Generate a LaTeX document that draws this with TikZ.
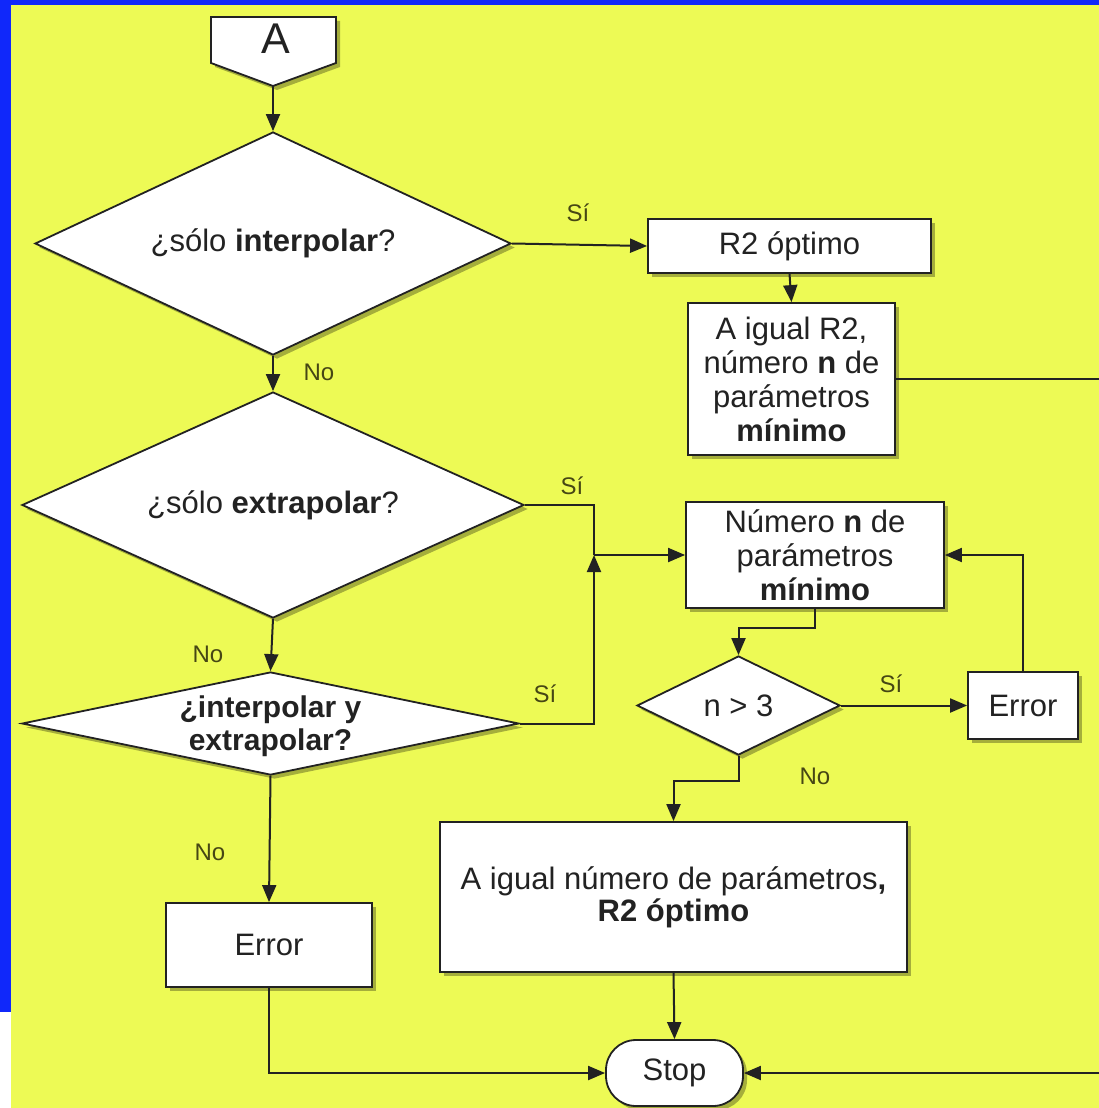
\documentclass[tikz,border=0pt]{standalone}
\usepackage{fontspec}
\setmainfont{Liberation Sans}
\usetikzlibrary{arrows.meta,shapes.geometric,shadows}
\definecolor{bgyellow}{RGB}{237,250,85}
\definecolor{bgblue}{RGB}{16,40,250}
\definecolor{ink}{RGB}{34,34,34}
\definecolor{lblc}{RGB}{70,70,20}
\begin{document}
\begin{tikzpicture}[x=1pt,y=-1pt,
  shade/.style={drop shadow={shadow xshift=4pt,shadow yshift=-4pt,opacity=0.3,fill=black}},
  box/.style={draw=ink,line width=1.8pt,fill=white,align=center,
    font=\fontsize{31}{34}\selectfont,text=ink,inner sep=0pt,shade},
  dia/.style={box,diamond},
  txt/.style={align=center,font=\fontsize{31}{34}\selectfont,text=ink,inner sep=0pt},
  lbl/.style={text=lblc,font=\fontsize{24}{28}\selectfont,inner sep=0pt},
  conn/.style={draw=ink,line width=2pt},
  arr/.style={conn,-{Triangle[length=17pt,width=14pt]}}]
\useasboundingbox (0,0) rectangle (1099,1108);
\fill[bgblue] (0,0) rectangle (1099,1108);
\fill[bgyellow] (11,5) rectangle (1099,1108);
\fill[white] (0,1012) rectangle (11,1108);

% off-page connector A
\path[draw=ink,line width=1.8pt,fill=white,shade] (211,17) -- (336,17) -- (336,63) -- (273,86) -- (211,63) -- cycle;
\coordinate (Abot) at (273,86);
\node[anchor=base,font=\fontsize{43}{43}\selectfont,text=ink,inner sep=0pt] (A) at (276,53) {A};

% decisions
\node[dia,aspect=2.13,minimum width=476,minimum height=223] (d1) at (273,243.5) {¿sólo \textbf{interpolar}?};
\node[dia,aspect=2.22,minimum width=502,minimum height=226] (d2) at (273,505) {¿sólo \textbf{extrapolar}?};
\node[dia,aspect=4.8,minimum width=497,minimum height=103] (d3) at (270.5,723.5) {};
\node[txt,font=\fontsize{30}{33}\selectfont\bfseries] (d3t) at (270.5,726) {¿interpolar y\\extrapolar?};
\node[dia,aspect=2.05,minimum width=203,minimum height=99] (d4) at (738.5,705.5) {n > 3};

% boxes
\node[box,minimum width=283,minimum height=54] (r2) at (789.5,246) {R2 óptimo};
\node[box,minimum width=207,minimum height=152] (b2) at (791.5,379) {A igual R2,\\número \textbf{n} de\\parámetros\\\textbf{mínimo}};
\node[box,minimum width=258,minimum height=106] (b3) at (815,555) {Número \textbf{n} de\\parámetros\\\textbf{mínimo}};
\node[box,minimum width=110,minimum height=67] (e2) at (1023,705.5) {Error};
\node[box,minimum width=206,minimum height=84] (e1) at (269,945) {Error};
\node[box,minimum width=467,minimum height=150,font=\fontsize{31}{32}\selectfont] (big) at (673.5,897) {A igual número de parámetros\textbf{,}\\\textbf{R2 óptimo}};
\node[box,minimum width=137,minimum height=66,rounded corners=30pt] (stop) at (674.5,1073) {Stop};

% junction
\coordinate (J) at (594,555);

% connectors
\draw[arr] (Abot) -- (d1.north);
\draw[arr] (d1.east) -- (r2.west);
\draw[arr] (r2.south) -- (b2.north);
\draw[arr] (d1.south) -- (d2.north);
\draw[conn] (d2.east) -| (J);
\draw[arr] (d3.east) -| (J);
\draw[arr] (J) -- (b3.west);
\draw[arr] (d2.south) -- (d3.north);
\draw[arr] (d3.south) -- (e1.north);
\draw[arr] (e1.south) |- (stop.west);
\draw[arr] (b3.south) -- ++(0,19) -| (d4.north);
\draw[arr] (d4.east) -- (e2.west);
\draw[arr] (e2.north) |- (b3.east);
\draw[arr] (d4.south) -- ++(0,25) -| (big.north);
\draw[arr] (big.south) -- (stop.north);
\draw[arr] (b2.east) -- (1110,379) -- (1110,1073) -- (stop.east);

% labels
\node[lbl] (l1) at (578,213) {Sí};
\node[lbl] (l2) at (319,372) {No};
\node[lbl] (l3) at (572,486) {Sí};
\node[lbl] (l4) at (208,654) {No};
\node[lbl] (l5) at (545,694) {Sí};
\node[lbl] (l6) at (210,852) {No};
\node[lbl] (l7) at (891,684) {Sí};
\node[lbl] (l8) at (815,776) {No};
\end{tikzpicture}
\end{document}
